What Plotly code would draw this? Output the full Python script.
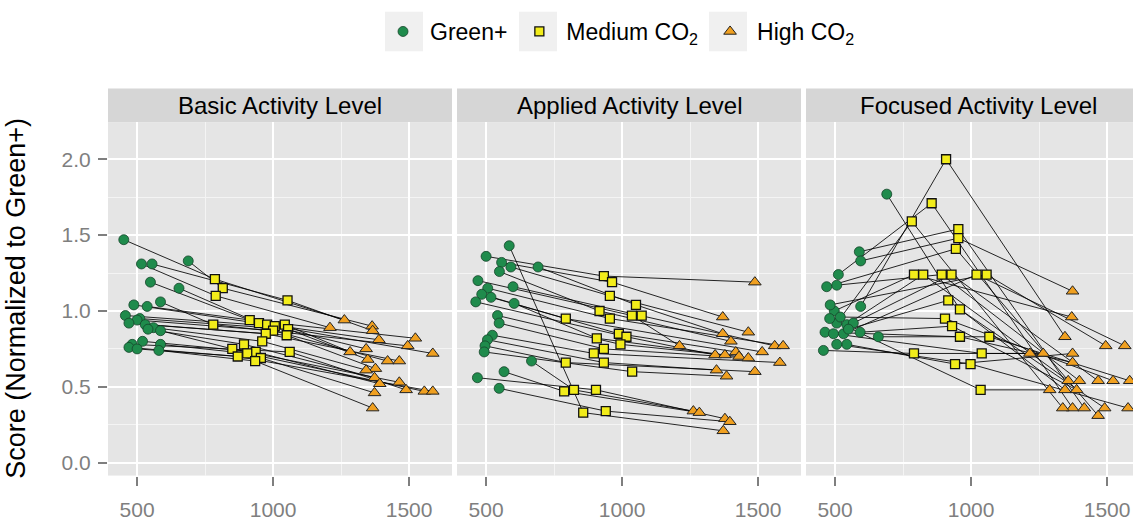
import plotly.graph_objects as go

W, H = 1133, 521

# ---------------- data (index-aligned paths: Green+ -> Medium CO2 -> High CO2) ----------------
panel_titles = ["Basic Activity Level", "Applied Activity Level", "Focused Activity Level"]
x_ticks = [500, 1000, 1500]
y_ticks = [0.0, 0.5, 1.0, 1.5, 2.0]
y_tick_labels = ["0.0", "0.5", "1.0", "1.5", "2.0"]

basic_green_x = [451, 688, 516, 555, 549, 654, 586, 488, 537, 457, 510, 500, 470, 530, 560, 540, 586, 520, 482, 586, 470, 500, 580]
basic_green_y = [1.47, 1.33, 1.31, 1.31, 1.19, 1.15, 1.06, 1.04, 1.03, 0.97, 0.95, 0.94, 0.92, 0.91, 0.89, 0.88, 0.87, 0.80, 0.78, 0.78, 0.76, 0.75, 0.74]
basic_med_x = [786, 815, 789, 1053, 914, 948, 780, 978, 1043, 1006, 1055, 1000, 973, 1050, 960, 893, 850, 936, 1061, 905, 870, 955, 934]
basic_med_y = [1.21, 1.15, 1.10, 1.07, 0.94, 0.92, 0.91, 0.91, 0.91, 0.90, 0.88, 0.87, 0.85, 0.84, 0.80, 0.78, 0.75, 0.73, 0.73, 0.72, 0.70, 0.69, 0.67]
basic_high_x = [1262, 1364, 1209, 1366, 1523, 1389, 1495, 1342, 1283, 1587, 1348, 1421, 1464, 1376, 1342, 1373, 1464, 1392, 1489, 1556, 1587, 1373, 1366]
basic_high_y = [0.94, 0.90, 0.89, 0.87, 0.82, 0.81, 0.77, 0.75, 0.73, 0.72, 0.68, 0.67, 0.67, 0.62, 0.61, 0.56, 0.53, 0.52, 0.48, 0.47, 0.47, 0.46, 0.36]

applied_green_x = [500, 557, 591, 691, 549, 470, 599, 506, 484, 518, 462, 603, 542, 548, 523, 505, 496, 493, 667, 566, 468, 548, 585]
applied_green_y = [1.36, 1.32, 1.29, 1.29, 1.26, 1.20, 1.16, 1.15, 1.11, 1.09, 1.06, 1.05, 0.97, 0.92, 0.84, 0.81, 0.77, 0.73, 0.67, 0.60, 0.56, 0.49, 1.43]
applied_med_x = [933, 963, 955, 1051, 917, 1036, 1072, 955, 793, 988, 1016, 907, 994, 933, 896, 933, 793, 1037, 823, 787, 904, 940, 857]
applied_med_y = [1.23, 1.19, 1.10, 1.04, 1.00, 0.97, 0.97, 0.95, 0.95, 0.85, 0.83, 0.82, 0.78, 0.75, 0.72, 0.66, 0.66, 0.60, 0.48, 0.47, 0.48, 0.34, 0.33]
applied_high_x = [1488, 1370, 1464, 1370, 1400, 1211, 1561, 1592, 1515, 1418, 1342, 1378, 1430, 1464, 1580, 1347, 1488, 1384, 1262, 1284, 1378, 1396, 1372]
applied_high_y = [1.19, 0.96, 0.86, 0.85, 0.80, 0.77, 0.77, 0.77, 0.73, 0.73, 0.71, 0.71, 0.70, 0.69, 0.66, 0.61, 0.60, 0.57, 0.34, 0.33, 0.29, 0.27, 0.21]

focused_green_x = [594, 512, 506, 589, 594, 469, 497, 543, 506, 567, 531, 482, 549, 690, 519, 592, 463, 659, 457, 494, 543, 506, 480]
focused_green_y = [1.03, 1.24, 0.92, 1.39, 1.33, 1.16, 1.00, 0.91, 1.17, 0.92, 0.85, 1.04, 0.88, 1.77, 0.96, 0.86, 0.86, 0.83, 0.74, 0.85, 0.78, 0.78, 0.95]
focused_med_x = [908, 855, 782, 953, 953, 944, 790, 824, 892, 928, 1020, 1057, 916, 959, 904, 930, 959, 1067, 790, 1039, 941, 998, 1035]
focused_med_y = [2.00, 1.71, 1.59, 1.54, 1.48, 1.41, 1.24, 1.24, 1.24, 1.24, 1.24, 1.24, 1.07, 1.01, 0.95, 0.90, 0.83, 0.83, 0.72, 0.72, 0.65, 0.65, 0.48]
focused_high_x = [1345, 1373, 1337, 1416, 1373, 1467, 1370, 1357, 1398, 1467, 1565, 1495, 1345, 1491, 1522, 1388, 1373, 1583, 1216, 1265, 1373, 1577, 1289]
focused_high_y = [0.83, 0.36, 0.36, 0.36, 1.13, 0.31, 0.96, 0.54, 0.54, 0.54, 0.77, 0.77, 0.48, 0.36, 0.54, 0.48, 0.66, 0.54, 0.72, 0.72, 0.72, 0.36, 0.48]

panels = [
    (basic_green_x, basic_green_y, basic_med_x, basic_med_y, basic_high_x, basic_high_y),
    (applied_green_x, applied_green_y, applied_med_x, applied_med_y, applied_high_x, applied_high_y),
    (focused_green_x, focused_green_y, focused_med_x, focused_med_y, focused_high_x, focused_high_y),
]

# ---------------- layout geometry (pixels) ----------------
panel_left = [108, 457, 806]
panel_w = 344
panel_top, panel_bot = 124, 483
strip_top = 90
px_per_unit = 0.272
x_lo = 393
y_range = [-0.085, 2.245]

FONT = "Liberation Sans, Arial, Helvetica, sans-serif"
GREY_TXT = "#7f7f7f"
TICK_FS = 21

fig = go.Figure()

for i, (gx, gy, mx, my, hx, hy) in enumerate(panels):
    xa = "x" if i == 0 else f"x{i+1}"
    ya = "y" if i == 0 else f"y{i+1}"
    lx, ly = [], []
    for j in range(len(gx)):
        lx += [gx[j], mx[j], hx[j], None]
        ly += [gy[j], my[j], hy[j], None]
    fig.add_trace(go.Scatter(x=lx, y=ly, mode="lines",
                             line=dict(color="rgba(0,0,0,0.85)", width=1.0),
                             xaxis=xa, yaxis=ya, showlegend=False, hoverinfo="skip"))
    fig.add_trace(go.Scatter(x=gx, y=gy, mode="markers", name="Green+", legendgroup="g",
                             showlegend=(i == 0), xaxis=xa, yaxis=ya,
                             marker=dict(symbol="circle", size=10, color="#1f8b4c",
                                         line=dict(color="#17452b", width=0.8))))
    fig.add_trace(go.Scatter(x=mx, y=my, mode="markers", name="Medium CO<sub>2</sub>", legendgroup="m",
                             showlegend=(i == 0), xaxis=xa, yaxis=ya,
                             marker=dict(symbol="square", size=9, color="#f2ec1a",
                                         line=dict(color="#111111", width=1.3))))
    fig.add_trace(go.Scatter(x=hx, y=hy, mode="markers", name="High CO<sub>2</sub>", legendgroup="h",
                             showlegend=(i == 0), xaxis=xa, yaxis=ya,
                             marker=dict(symbol="triangle-up", size=11, color="#f0a020",
                                         line=dict(color="#222222", width=1))))

def pfx(px):
    return px / W

def pfy(py):
    return 1 - py / H

axis_common = dict(showgrid=True, gridcolor="white", gridwidth=1.5, zeroline=False, showline=False)

layout = dict(
    width=W, height=H,
    margin=dict(l=0, r=0, t=0, b=0),
    paper_bgcolor="white", plot_bgcolor="#e5e5e5",
    font=dict(family=FONT, color="black"),
    showlegend=True,
    legend=dict(orientation="h", x=pfx(376), xanchor="left", y=pfy(32), yanchor="middle",
                font=dict(size=23, family=FONT, color="black"), bgcolor="rgba(0,0,0,0)",
                itemsizing="trace", itemwidth=44),
    shapes=[], annotations=[],
)

# grey legend key backgrounds
for kc in [404, 538, 728]:
    layout["shapes"].append(dict(type="rect", xref="paper", yref="paper",
                                 x0=pfx(kc - 19), x1=pfx(kc + 19), y0=pfy(52), y1=pfy(12),
                                 fillcolor="#f0f0f0", line=dict(width=0), layer="below"))

for i in range(3):
    left = panel_left[i]
    right = min(left + panel_w, W)
    x_hi = x_lo + (right - left) / px_per_unit
    xkey = "xaxis" if i == 0 else f"xaxis{i+1}"
    ykey = "yaxis" if i == 0 else f"yaxis{i+1}"
    layout[xkey] = dict(axis_common, domain=[pfx(left), pfx(right)], range=[x_lo, x_hi],
                        anchor="y" if i == 0 else f"y{i+1}",
                        tickvals=x_ticks, ticktext=[str(v) for v in x_ticks],
                        ticks="outside", ticklen=9, tickwidth=1.5, tickcolor=GREY_TXT,
                        ticklabelstandoff=6,
                        tickfont=dict(size=TICK_FS, color=GREY_TXT, family=FONT),
                        minor=dict(tickvals=[750, 1250], showgrid=True, gridcolor="#f4f4f4",
                                   gridwidth=0.8, ticks=""))
    yax = dict(axis_common, domain=[pfy(panel_bot), pfy(panel_top)], range=y_range,
               anchor="x" if i == 0 else f"x{i+1}",
               tickvals=y_ticks,
               minor=dict(tickvals=[0.25, 0.75, 1.25, 1.75], showgrid=True, gridcolor="#f4f4f4",
                          gridwidth=0.8, ticks=""))
    if i == 0:
        yax.update(ticktext=y_tick_labels, ticks="outside", ticklen=9, tickwidth=1.5, tickcolor=GREY_TXT,
                   ticklabelstandoff=3,
                   tickfont=dict(size=TICK_FS, color=GREY_TXT, family=FONT))
    else:
        yax.update(showticklabels=False, ticks="")
    layout[ykey] = yax

    layout["shapes"].append(dict(type="rect", xref="paper", yref="paper",
                                 x0=pfx(left), x1=pfx(right), y0=pfy(panel_top), y1=pfy(strip_top),
                                 fillcolor="#d6d6d6", line=dict(width=0), layer="below"))
    layout["annotations"].append(dict(text=panel_titles[i], xref="paper", yref="paper",
                                      x=pfx(left + panel_w / 2), y=pfy((panel_top + strip_top) / 2),
                                      xanchor="center", yanchor="middle", showarrow=False,
                                      font=dict(size=24, color="black", family=FONT)))

layout["annotations"].append(dict(text="Score (Normalized to Green+)", xref="paper", yref="paper",
                                  x=pfx(16), y=pfy((panel_top + panel_bot) / 2), textangle=-90,
                                  xanchor="center", yanchor="middle", showarrow=False,
                                  font=dict(size=27, color="black", family=FONT)))

fig.update_layout(**layout)
fig.write_html("out.html")
